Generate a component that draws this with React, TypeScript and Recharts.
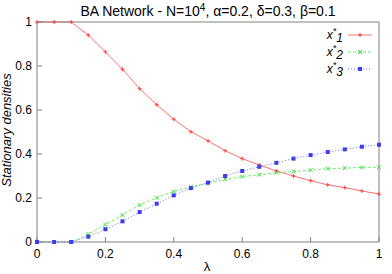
import { Line, LineChart, XAxis, YAxis } from "recharts";

const LAMBDA = [0, 0.05, 0.1, 0.15, 0.2, 0.25, 0.3, 0.35, 0.4, 0.45, 0.5, 0.55, 0.6, 0.65, 0.7, 0.75, 0.8, 0.85, 0.9, 0.95, 1];
const X1 = [1, 1, 1, 0.94, 0.864, 0.785, 0.697, 0.624, 0.558, 0.501, 0.46, 0.415, 0.379, 0.35, 0.323, 0.3, 0.279, 0.26, 0.247, 0.232, 0.218];
const X2 = [0, 0, 0, 0.036, 0.079, 0.123, 0.168, 0.201, 0.23, 0.251, 0.266, 0.286, 0.297, 0.306, 0.315, 0.32, 0.327, 0.333, 0.336, 0.339, 0.34];
const X3 = [0, 0, 0, 0.024, 0.058, 0.094, 0.136, 0.174, 0.212, 0.245, 0.27, 0.3, 0.323, 0.342, 0.36, 0.379, 0.395, 0.409, 0.421, 0.433, 0.442];
const TICKS = [0, 0.2, 0.4, 0.6, 0.8, 1];

const data = LAMBDA.map((l, i) => ({ l, x1: X1[i], x2: X2[i], x3: X3[i] }));

const W = 392;
const H = 274;
const FONT = "'Liberation Sans', Arial, sans-serif";
const BORDER = "#808080";

const RED = "#ff7070";
const GREEN = "#70f070";
const BLUE = "#7070ff";

function Plus({ cx, cy }: { cx: number; cy: number }) {
  return (
    <g stroke="#ff4040" strokeWidth={1}>
      <line x1={cx - 2} y1={cy} x2={cx + 2} y2={cy} />
      <line x1={cx} y1={cy - 2} x2={cx} y2={cy + 2} />
    </g>
  );
}

function Cross({ cx, cy }: { cx: number; cy: number }) {
  return (
    <g stroke="#40e040" strokeWidth={1}>
      <line x1={cx - 2} y1={cy - 2} x2={cx + 2} y2={cy + 2} />
      <line x1={cx - 2} y1={cy + 2} x2={cx + 2} y2={cy - 2} />
    </g>
  );
}

function Star({ cx, cy }: { cx: number; cy: number }) {
  return <rect x={cx - 2} y={cy - 2} width={4} height={4} fill="#3c3cf0" />;
}

const tickStyle = { fontSize: 12, fill: "#000", fontFamily: FONT };

function LegendRow({ y, idx, color, dash, Marker }: { y: number; idx: string; color: string; dash?: string; Marker: typeof Plus }) {
  return (
    <g>
      <text x={343} y={y + 4} textAnchor="end" fontSize={12} fontStyle="italic" fontFamily={FONT}>
        x<tspan dy={-5} fontSize={9}>*</tspan>
        <tspan dy={8}>{idx}</tspan>
      </text>
      <line x1={348} y1={y} x2={372} y2={y} stroke={color} strokeWidth={1} strokeDasharray={dash} />
      <Marker cx={360} cy={y} />
    </g>
  );
}

export default function App() {
  return (
    <div style={{ position: "absolute", left: 0, top: 0, width: W, height: H, background: "#fff" }}>
      <LineChart width={W} height={H} data={data} margin={{ top: 21, right: 12, left: 7, bottom: 2 }}>
        <XAxis
          dataKey="l"
          type="number"
          domain={[0, 1]}
          ticks={TICKS}
          height={30}
          tickSize={-5}
          tickMargin={12}
          tickFormatter={(v: number) => String(v)}
          tick={tickStyle}
          stroke={BORDER}
          interval={0}
        />
        <XAxis
          xAxisId="top"
          orientation="top"
          dataKey="l"
          type="number"
          domain={[0, 1]}
          ticks={TICKS}
          height={1}
          tickSize={-5}
          tick={false}
          stroke={BORDER}
          interval={0}
        />
        <YAxis
          type="number"
          domain={[0, 1]}
          ticks={TICKS}
          width={30}
          tickSize={-5}
          tickMargin={10}
          tickFormatter={(v: number) => String(v)}
          tick={tickStyle}
          stroke={BORDER}
          interval={0}
        />
        <YAxis
          yAxisId="right"
          orientation="right"
          type="number"
          domain={[0, 1]}
          ticks={TICKS}
          width={1}
          tickSize={-5}
          tick={false}
          stroke={BORDER}
          interval={0}
        />
        <Line
          dataKey="x1"
          type="linear"
          stroke={RED}
          strokeWidth={1}
          isAnimationActive={false}
          dot={(p: any) => <Plus key={`a${p.index}`} cx={p.cx} cy={p.cy} />}
        />
        <Line
          dataKey="x2"
          type="linear"
          stroke={GREEN}
          strokeWidth={1}
          strokeDasharray="3 2"
          isAnimationActive={false}
          dot={(p: any) => <Cross key={`b${p.index}`} cx={p.cx} cy={p.cy} />}
        />
        <Line
          dataKey="x3"
          type="linear"
          stroke={BLUE}
          strokeWidth={1}
          strokeDasharray="1 2"
          isAnimationActive={false}
          dot={(p: any) => <Star key={`c${p.index}`} cx={p.cx} cy={p.cy} />}
        />
      </LineChart>
      <svg width={W} height={H} style={{ position: "absolute", left: 0, top: 0, pointerEvents: "none" }}>
        <text x={208} y={16} textAnchor="middle" fontSize={14} fontFamily={FONT}>
          BA Network - N=10<tspan dy={-5} fontSize={10}>4</tspan>
          <tspan dy={5}>, α=0.2, δ=0.3, β=0.1</tspan>
        </text>
        <text
          transform="translate(11,130) rotate(-90)"
          textAnchor="middle"
          fontSize={13}
          fontStyle="italic"
          fontFamily={FONT}
        >
          Stationary densities
        </text>
        <text x={207} y={271} textAnchor="middle" fontSize={13} fontFamily={FONT}>
          λ
        </text>
        <LegendRow y={35} idx="1" color={RED} Marker={Plus} />
        <LegendRow y={52} idx="2" color={GREEN} dash="3 2" Marker={Cross} />
        <LegendRow y={69} idx="3" color={BLUE} dash="1 2" Marker={Star} />
      </svg>
    </div>
  );
}
